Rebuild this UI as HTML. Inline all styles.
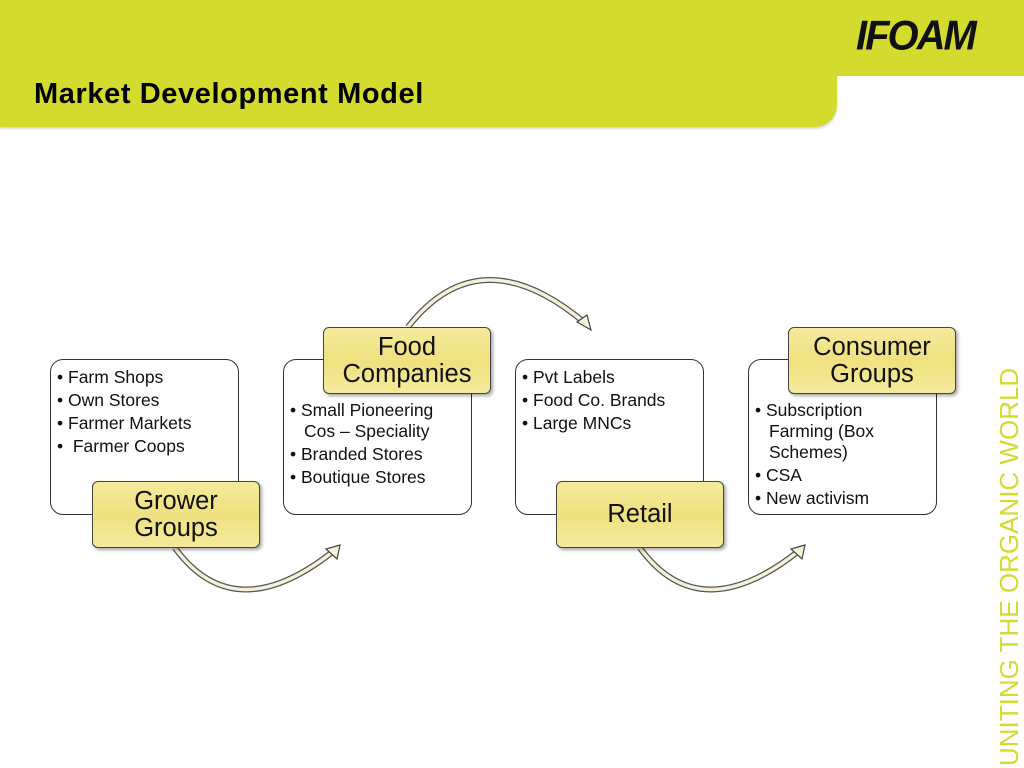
<!DOCTYPE html>
<html><head><meta charset="utf-8"><style>
*{margin:0;padding:0;box-sizing:border-box}
body{width:1024px;height:768px;position:relative;background:#fff;font-family:"Liberation Sans",sans-serif;overflow:hidden}
.g1{position:absolute;left:0;top:0;width:1024px;height:76px;background:#d3dc2e}
.g2{position:absolute;left:0;top:70px;width:837px;height:57px;background:#d3dc2e;border-bottom-right-radius:22px;box-shadow:0 2px 2px rgba(0,0,0,.15)}
.title{position:absolute;left:34px;top:78px;font-size:29px;font-weight:bold;color:#000;letter-spacing:0.6px}
.logo{position:absolute;left:856px;top:14px;font-size:40px;font-weight:bold;font-style:italic;color:#111;letter-spacing:-2px;transform:scaleY(1.05)}
.box{position:absolute;width:189px;height:156px;top:359px;border:1.5px solid #333;border-radius:13px;background:#fff;font-size:17.5px;color:#111;line-height:23px;padding:6px 10px 0 6px}
.box ul{list-style:none}
.box li{padding-left:14px;text-indent:-14px}
.box li:before{content:"• ";}
.lab{position:absolute;width:168px;height:67px;border:1.5px solid #444;border-radius:6px;background:linear-gradient(#f4ea9c,#efe17f 50%,#f4ea9c);box-shadow:2px 2px 3px rgba(0,0,0,.35);font-size:25.5px;line-height:27px;text-align:center;color:#111;display:flex;align-items:center;justify-content:center}
.vt{position:absolute;left:995px;top:766px;transform-origin:0 0;transform:rotate(-90deg);font-size:26px;line-height:28px;color:#d3dc2e;white-space:nowrap}
</style></head><body>
<div class="g1"></div><div class="g2"></div>
<div class="title">Market Development Model</div>
<div class="logo">IFOAM</div>

<svg width="1024" height="768" style="position:absolute;left:0;top:0">
<g fill="none">
<path d="M175 548 Q235 630 335 550" stroke="#555" stroke-width="6"/>
<path d="M175 548 Q235 630 335 550" stroke="#f5f1d8" stroke-width="3.5"/>
<path d="M640 548 Q700 630 800 550" stroke="#555" stroke-width="6"/>
<path d="M640 548 Q700 630 800 550" stroke="#f5f1d8" stroke-width="3.5"/>
<path d="M408 327 Q480 235 585 323" stroke="#555" stroke-width="6"/>
<path d="M408 327 Q480 235 585 323" stroke="#f5f1d8" stroke-width="3.5"/>
</g>
<g fill="#f5f1d8" stroke="#444" stroke-width="1.2">
<polygon points="340,545 326,549 337,559"/>
<polygon points="805,545 791,549 802,559"/>
<polygon points="591,330 577,322 587,315"/>
</g>
</svg>

<div class="box" style="left:50px"><ul><li>Farm Shops</li><li>Own Stores</li><li>Farmer Markets</li><li>&nbsp;Farmer Coops</li></ul></div>
<div class="box" style="left:283px;padding-top:40px;line-height:21px;padding-right:20px"><ul><li>Small Pioneering Cos – Speciality</li><li style="margin-top:2px">Branded Stores</li><li style="margin-top:2px">Boutique Stores</li></ul></div>
<div class="box" style="left:515px"><ul><li>Pvt Labels</li><li>Food Co. Brands</li><li>Large MNCs</li></ul></div>
<div class="box" style="left:748px;padding-top:40px;line-height:21px;padding-right:45px"><ul><li>Subscription Farming (Box Schemes)</li><li style="margin-top:2px">CSA</li><li style="margin-top:2px">New activism</li></ul></div>

<div class="lab" style="left:92px;top:481px">Grower<br>Groups</div>
<div class="lab" style="left:323px;top:327px">Food<br>Companies</div>
<div class="lab" style="left:556px;top:481px">Retail</div>
<div class="lab" style="left:788px;top:327px">Consumer<br>Groups</div>

<div class="vt">UNITING THE ORGANIC WORLD</div>
</body></html>
